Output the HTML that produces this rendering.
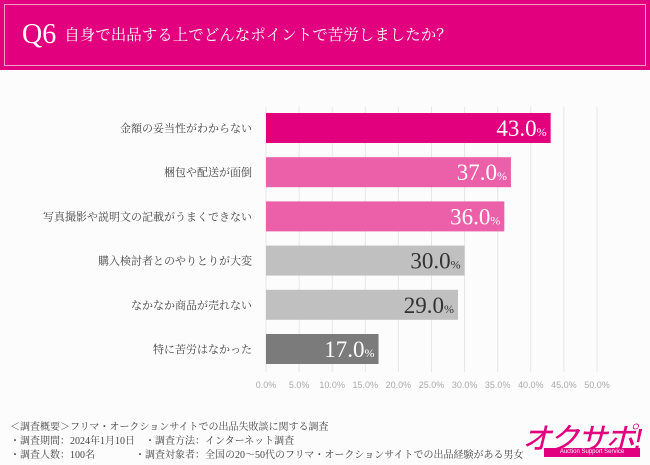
<!DOCTYPE html>
<html><head><meta charset="utf-8"><style>
body{margin:0;width:650px;height:465px;background:#fdfcfc;overflow:hidden;position:relative;font-family:"Liberation Serif","Noto Serif CJK SC",serif;}
#hdr{position:absolute;left:0;top:0;width:650px;height:70px;background:#e3007f;}
#hdr .in{position:absolute;left:4px;top:4px;right:4px;bottom:4px;border:1px solid #f49ac8;}
#hdr .t{position:absolute;left:22px;top:20px;color:#fff;font-size:15.5px;letter-spacing:0;white-space:nowrap;line-height:30px;}
#hdr .q{font-size:28px;margin-right:8px;letter-spacing:0;vertical-align:-3px;}
.foot{position:absolute;left:10px;font-size:10px;color:#444;white-space:nowrap;}
</style></head><body>
<div id="hdr"><div class="in"></div>
<div class="t"><span class="q">Q6</span>自身で出品する上でどんなポイントで苦労しましたか？</div></div>
<svg id="c" width="650" height="465" style="position:absolute;left:0;top:0"></svg>
<div class="foot" style="top:418px">＜調査概要＞フリマ・オークションサイトでの出品失敗談に関する調査</div>
<div class="foot" style="top:432px">・調査期間：2024年1月10日　・調査方法：インターネット調査</div>
<div class="foot" style="top:446px">・調査人数：100名　　　　・調査対象者：全国の20～50代のフリマ・オークションサイトでの出品経験がある男女</div>
<div style="position:absolute;left:522px;top:414px;width:120px;height:44px;">
<div style="position:absolute;left:0;top:0;font:italic bold 30px 'Liberation Sans','Noto Sans CJK JP',sans-serif;color:#e3007f;-webkit-text-stroke:1px #fff;letter-spacing:-2px;">オクサポ!</div>
<div style="position:absolute;left:22px;top:34px;width:96px;height:9px;background:#e3007f;color:#fff;font:6px 'Liberation Sans',sans-serif;text-align:center;line-height:9px;">Auction Support Service</div></div>
<script>
const categories=["金額の妥当性がわからない","梱包や配送が面倒","写真撮影や説明文の記載がうまくできない","購入検討者とのやりとりが大変","なかなか商品が売れない","特に苦労はなかった"];
const values=[43.0,37.0,36.0,30.0,29.0,17.0];
const colors=["#e3007f","#ec5fa9","#ec5fa9","#c0c0c0","#c0c0c0","#7b7b7b"];
const textColors=["#fff","#fff","#fff","#333","#333","#fff"];
const ticks=[0,5,10,15,20,25,30,35,40,45,50];
const svg=document.getElementById('c');const NS="http://www.w3.org/2000/svg";
const x0=266,xs=6.62,y0=113,step=44.2,bh=30;
const X=v=>x0+v*xs;
function mk(t,a){const e=document.createElementNS(NS,t);for(const k in a)e.setAttribute(k,a[k]);svg.appendChild(e);return e;}
ticks.forEach(t=>{const g=mk('line',{x1:X(t),x2:X(t),y1:107,y2:372,stroke:'#e6e6e6','stroke-width':1});


const l=mk('text',{x:X(t),y:388,'text-anchor':'middle','font-size':9,fill:'#aaa','font-family':'Liberation Sans,sans-serif'});l.textContent=t.toFixed(1)+'%';

});
categories.forEach((c,i)=>{const y=y0+i*step;
const r=mk('rect',{x:x0,y:y,width:X(values[i])-x0,height:bh,fill:colors[i]});


const l=mk('text',{x:252,y:y+bh/2+4,'text-anchor':'end','font-size':11,fill:'#444'});l.textContent=c;


const v=mk('text',{x:X(values[i])-4,y:y+bh/2+8,'text-anchor':'end','font-size':23,fill:textColors[i]});
v.innerHTML=values[i].toFixed(1)+'<tspan font-size="12">%</tspan>';

});
</script>
</body></html>
